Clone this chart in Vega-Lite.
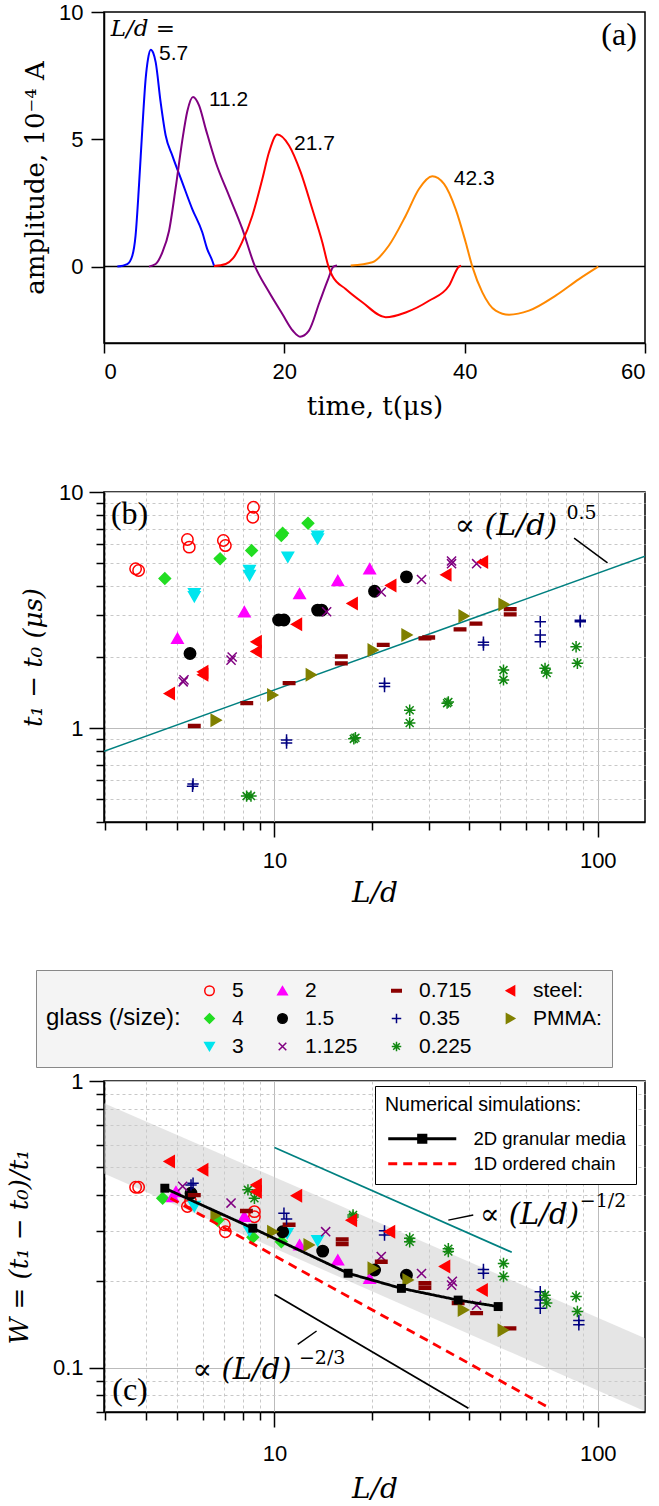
{
  "$schema": "https://vega.github.io/schema/vega-lite/v6.json",
  "background": "white",
  "padding": {"left": 5, "top": 0, "right": 0, "bottom": 0},
  "spacing": 60,
  "resolve": {"scale": {"color": "independent", "fill": "independent", "stroke": "independent", "shape": "independent", "strokeDash": "independent"}},
  "config": {
    "view": {"stroke": "black", "strokeWidth": 1.5},
    "axis": {"domainColor": "black", "domainWidth": 1.5, "tickColor": "black", "tickWidth": 1.5, "labelFont": "Liberation Sans", "labelFontSize": 22, "labelColor": "black", "titleFont": "DejaVu Serif", "titleFontSize": 26, "titleFontWeight": "normal", "titleColor": "black", "grid": false, "labelPadding": 6, "titlePadding": 10}
  },
  "vconcat": [
    {
      "width": 541, "height": 331,
      "encoding": {
        "x": {"field": "t", "type": "quantitative", "scale": {"domain": [0, 60], "nice": false, "zero": false}, "axis": {"values": [0, 20, 40, 60], "title": "time, t(μs)", "tickSize": 10, "labelPadding": 8, "titlePadding": 11}},
        "y": {"field": "amp", "type": "quantitative", "scale": {"domain": [-3, 10], "nice": false, "zero": false}, "axis": {"values": [0, 5, 10], "title": "amplitude, 10⁻⁴ A", "tickSize": 13, "labelPadding": 8, "titlePadding": 10}}
      },
      "layer": [
        {
          "data": {"values": [{"t": 0, "t2": 60, "amp": 0}]},
          "mark": {"type": "rule", "color": "black", "strokeWidth": 1.5},
          "encoding": {"x2": {"field": "t2"}}
        },
        {
          "data": {"values": [
            {"t": 1.48, "amp": 0, "Ld": "5.7"}, {"t": 2.58, "amp": 0.1, "Ld": "5.7"}, {"t": 3.14, "amp": 0.43, "Ld": "5.7"}, {"t": 3.5, "amp": 1.22, "Ld": "5.7"}, {"t": 3.88, "amp": 3.18, "Ld": "5.7"}, {"t": 4.25, "amp": 5.41, "Ld": "5.7"}, {"t": 4.62, "amp": 7.38, "Ld": "5.7"}, {"t": 4.88, "amp": 8.15, "Ld": "5.7"}, {"t": 5.18, "amp": 8.52, "Ld": "5.7"}, {"t": 5.45, "amp": 8.4, "Ld": "5.7"}, {"t": 5.73, "amp": 8.03, "Ld": "5.7"}, {"t": 6.28, "amp": 6.46, "Ld": "5.7"}, {"t": 6.84, "amp": 5.15, "Ld": "5.7"}, {"t": 7.58, "amp": 4.36, "Ld": "5.7"}, {"t": 8.68, "amp": 3.31, "Ld": "5.7"}, {"t": 9.79, "amp": 2.26, "Ld": "5.7"}, {"t": 10.9, "amp": 1.35, "Ld": "5.7"}, {"t": 11.45, "amp": 0.69, "Ld": "5.7"}, {"t": 12.0, "amp": 0.24, "Ld": "5.7"}, {"t": 12.2, "amp": 0.04, "Ld": "5.7"},
            {"t": 4.99, "amp": 0, "Ld": "11.2"}, {"t": 5.73, "amp": 0.1, "Ld": "11.2"}, {"t": 6.47, "amp": 0.56, "Ld": "11.2"}, {"t": 7.21, "amp": 1.4, "Ld": "11.2"}, {"t": 7.95, "amp": 3.1, "Ld": "11.2"}, {"t": 8.68, "amp": 4.95, "Ld": "11.2"}, {"t": 9.24, "amp": 6.1, "Ld": "11.2"}, {"t": 9.87, "amp": 6.66, "Ld": "11.2"}, {"t": 10.54, "amp": 6.33, "Ld": "11.2"}, {"t": 11.28, "amp": 5.41, "Ld": "11.2"}, {"t": 12.39, "amp": 4.1, "Ld": "11.2"}, {"t": 13.86, "amp": 2.79, "Ld": "11.2"}, {"t": 15.34, "amp": 1.48, "Ld": "11.2"}, {"t": 16.7, "amp": 0.05, "Ld": "11.2"}, {"t": 18.22, "amp": -0.95, "Ld": "11.2"}, {"t": 19.78, "amp": -1.86, "Ld": "11.2"}, {"t": 20.95, "amp": -2.52, "Ld": "11.2"}, {"t": 21.74, "amp": -2.75, "Ld": "11.2"}, {"t": 22.71, "amp": -2.52, "Ld": "11.2"}, {"t": 23.9, "amp": -1.4, "Ld": "11.2"}, {"t": 24.86, "amp": -0.49, "Ld": "11.2"}, {"t": 25.45, "amp": 0, "Ld": "11.2"}, {"t": 25.84, "amp": 0.04, "Ld": "11.2"},
            {"t": 12.2, "amp": 0.02, "Ld": "21.7"}, {"t": 13.5, "amp": 0.1, "Ld": "21.7"}, {"t": 14.3, "amp": 0.32, "Ld": "21.7"}, {"t": 15.3, "amp": 0.95, "Ld": "21.7"}, {"t": 16.45, "amp": 2.0, "Ld": "21.7"}, {"t": 17.56, "amp": 3.44, "Ld": "21.7"}, {"t": 18.3, "amp": 4.49, "Ld": "21.7"}, {"t": 19.22, "amp": 5.19, "Ld": "21.7"}, {"t": 20.52, "amp": 4.76, "Ld": "21.7"}, {"t": 21.81, "amp": 3.71, "Ld": "21.7"}, {"t": 23.1, "amp": 2.26, "Ld": "21.7"}, {"t": 24.21, "amp": 0.96, "Ld": "21.7"}, {"t": 24.9, "amp": 0, "Ld": "21.7"}, {"t": 25.3, "amp": -0.35, "Ld": "21.7"}, {"t": 26.8, "amp": -0.88, "Ld": "21.7"}, {"t": 28.65, "amp": -1.4, "Ld": "21.7"}, {"t": 31.24, "amp": -1.99, "Ld": "21.7"}, {"t": 33.46, "amp": -1.8, "Ld": "21.7"}, {"t": 36.04, "amp": -1.34, "Ld": "21.7"}, {"t": 38.26, "amp": -0.75, "Ld": "21.7"}, {"t": 39.37, "amp": 0, "Ld": "21.7"}, {"t": 39.6, "amp": 0.04, "Ld": "21.7"},
            {"t": 27.36, "amp": 0.04, "Ld": "42.3"}, {"t": 29.76, "amp": 0.17, "Ld": "42.3"}, {"t": 31.6, "amp": 0.83, "Ld": "42.3"}, {"t": 33.46, "amp": 2.0, "Ld": "42.3"}, {"t": 34.93, "amp": 3.05, "Ld": "42.3"}, {"t": 36.41, "amp": 3.55, "Ld": "42.3"}, {"t": 37.71, "amp": 3.25, "Ld": "42.3"}, {"t": 39.0, "amp": 2.26, "Ld": "42.3"}, {"t": 40.11, "amp": 0.96, "Ld": "42.3"}, {"t": 40.85, "amp": 0, "Ld": "42.3"}, {"t": 41.96, "amp": -1.01, "Ld": "42.3"}, {"t": 43.44, "amp": -1.73, "Ld": "42.3"}, {"t": 44.92, "amp": -1.89, "Ld": "42.3"}, {"t": 47.13, "amp": -1.73, "Ld": "42.3"}, {"t": 50.09, "amp": -1.14, "Ld": "42.3"}, {"t": 52.68, "amp": -0.49, "Ld": "42.3"}, {"t": 54.82, "amp": 0, "Ld": "42.3"}
          ]},
          "mark": {"type": "line", "interpolate": "monotone", "strokeWidth": 2},
          "encoding": {"color": {"field": "Ld", "type": "nominal", "scale": {"domain": ["5.7", "11.2", "21.7", "42.3"], "range": ["#0000ff", "#800080", "#ff0000", "#ff8800"]}, "legend": null}}
        },
        {
          "data": {"values": [{"t": 6.1, "amp": 8.36, "label": "5.7"}, {"t": 11.64, "amp": 6.53, "label": "11.2"}, {"t": 21.07, "amp": 4.82, "label": "21.7"}, {"t": 38.8, "amp": 3.44, "label": "42.3"}]},
          "mark": {"type": "text", "align": "left", "baseline": "middle", "font": "Liberation Sans", "fontSize": 21, "color": "black"},
          "encoding": {"text": {"field": "label"}}
        },
        {
          "data": {"values": [{"t": 0.74, "amp": 9.34, "label": "L/d ="}]},
          "mark": {"type": "text", "align": "left", "baseline": "middle", "font": "DejaVu Serif", "fontStyle": "italic", "fontSize": 23, "color": "black"},
          "encoding": {"text": {"field": "label"}}
        },
        {
          "data": {"values": [{"t": 59.1, "amp": 9.1, "label": "(a)"}]},
          "mark": {"type": "text", "align": "right", "baseline": "middle", "font": "Liberation Serif", "fontSize": 32, "color": "black"},
          "encoding": {"text": {"field": "label"}}
        }
      ]
    },
    {
      "width": 541, "height": 330,
      "encoding": {
        "x": {"field": "Ld", "type": "quantitative", "scale": {"type": "log", "domain": [2.97, 140], "nice": false}, "axis": {"title": "L/d", "titleFontStyle": "italic", "titleFontSize": 28, "values": [3, 4, 5, 6, 7, 8, 9, 10, 20, 30, 40, 50, 60, 70, 80, 90, 100], "labelExpr": "datum.value == 10 ? '10' : datum.value == 100 ? '100' : ''", "grid": true, "gridColor": {"condition": {"test": "datum.value == 10 || datum.value == 100", "value": "#bbbbbb"}, "value": "#c8c8c8"}, "gridDash": {"condition": {"test": "datum.value == 10 || datum.value == 100", "value": []}, "value": [3, 3]}, "tickSize": {"condition": {"test": "datum.value == 10 || datum.value == 100", "value": 15}, "value": 8}, "labelPadding": 13, "labelOverlap": false, "titlePadding": 8}},
        "y": {"field": "dt", "type": "quantitative", "scale": {"type": "log", "domain": [0.4, 10], "nice": false}, "axis": {"title": "t₁ − t₀ (μs)", "titleFontStyle": "italic", "values": [0.4, 0.5, 0.6, 0.7, 0.8, 0.9, 1, 2, 3, 4, 5, 6, 7, 8, 9, 10], "labelExpr": "datum.value == 1 ? '1' : datum.value == 10 ? '10' : ''", "grid": true, "gridColor": {"condition": {"test": "datum.value == 1 || datum.value == 10", "value": "#bbbbbb"}, "value": "#c8c8c8"}, "gridDash": {"condition": {"test": "datum.value == 1 || datum.value == 10", "value": []}, "value": [3, 3]}, "tickSize": {"condition": {"test": "datum.value == 1 || datum.value == 10", "value": 15}, "value": 8}, "labelPadding": 6, "labelOverlap": false, "titlePadding": 12}}
      },
      "layer": [
        {
          "data": {"values": [{"Ld": 2.97, "dt": 0.797}, {"Ld": 140, "dt": 5.35}]},
          "mark": {"type": "line", "color": "#008080", "strokeWidth": 1.5, "clip": true}
        },
        {
          "data": {"values": [{"Ld": 84.5, "dt": 6.38, "Ld2": 107.2, "dt2": 5.01}]},
          "mark": {"type": "rule", "color": "black", "strokeWidth": 1.5},
          "encoding": {"x2": {"field": "Ld2"}, "y2": {"field": "dt2"}}
        },
        {
          "data": {"values": [
            {"Ld": 3.72, "dt": 4.73, "mat": "5"}, {"Ld": 3.8, "dt": 4.65, "mat": "5"}, {"Ld": 5.38, "dt": 6.29, "mat": "5"}, {"Ld": 5.45, "dt": 5.84, "mat": "5"}, {"Ld": 6.95, "dt": 6.23, "mat": "5"}, {"Ld": 7.05, "dt": 5.93, "mat": "5"}, {"Ld": 8.61, "dt": 8.62, "mat": "5"}, {"Ld": 8.57, "dt": 7.82, "mat": "5"},
            {"Ld": 4.58, "dt": 4.3, "mat": "4"}, {"Ld": 6.79, "dt": 5.22, "mat": "4"}, {"Ld": 8.5, "dt": 5.65, "mat": "4"}, {"Ld": 10.6, "dt": 6.69, "mat": "4"}, {"Ld": 10.5, "dt": 6.54, "mat": "4"}, {"Ld": 12.7, "dt": 7.38, "mat": "4"},
            {"Ld": 5.65, "dt": 3.71, "mat": "3"}, {"Ld": 5.65, "dt": 3.6, "mat": "3"}, {"Ld": 8.37, "dt": 4.65, "mat": "3"}, {"Ld": 8.37, "dt": 4.43, "mat": "3"}, {"Ld": 11.0, "dt": 5.3, "mat": "3"}, {"Ld": 13.6, "dt": 6.5, "mat": "3"}, {"Ld": 13.6, "dt": 6.33, "mat": "3"},
            {"Ld": 5.01, "dt": 2.4, "mat": "2"}, {"Ld": 8.07, "dt": 3.11, "mat": "2"}, {"Ld": 11.96, "dt": 3.71, "mat": "2"}, {"Ld": 15.7, "dt": 4.22, "mat": "2"}, {"Ld": 19.7, "dt": 4.73, "mat": "2"},
            {"Ld": 5.48, "dt": 2.07, "mat": "1.5"}, {"Ld": 10.3, "dt": 2.87, "mat": "1.5"}, {"Ld": 10.7, "dt": 2.87, "mat": "1.5"}, {"Ld": 13.6, "dt": 3.16, "mat": "1.5"}, {"Ld": 14.0, "dt": 3.16, "mat": "1.5"}, {"Ld": 20.4, "dt": 3.8, "mat": "1.5"}, {"Ld": 25.6, "dt": 4.37, "mat": "1.5"},
            {"Ld": 5.22, "dt": 1.57, "mat": "1.125"}, {"Ld": 5.25, "dt": 1.6, "mat": "1.125"}, {"Ld": 7.34, "dt": 1.94, "mat": "1.125"}, {"Ld": 7.4, "dt": 2.0, "mat": "1.125"}, {"Ld": 14.5, "dt": 3.11, "mat": "1.125"}, {"Ld": 21.4, "dt": 3.77, "mat": "1.125"}, {"Ld": 28.5, "dt": 4.26, "mat": "1.125"}, {"Ld": 35.3, "dt": 4.97, "mat": "1.125"}, {"Ld": 35.3, "dt": 5.1, "mat": "1.125"}, {"Ld": 42.2, "dt": 4.97, "mat": "1.125"},
            {"Ld": 5.65, "dt": 1.02, "mat": "0.715"}, {"Ld": 8.21, "dt": 1.275, "mat": "0.715"}, {"Ld": 11.1, "dt": 1.55, "mat": "0.715"}, {"Ld": 16.1, "dt": 2.01, "mat": "0.715"}, {"Ld": 16.1, "dt": 1.88, "mat": "0.715"}, {"Ld": 21.7, "dt": 2.25, "mat": "0.715"}, {"Ld": 29.2, "dt": 2.4, "mat": "0.715"}, {"Ld": 30, "dt": 2.42, "mat": "0.715"}, {"Ld": 37.5, "dt": 2.62, "mat": "0.715"}, {"Ld": 42, "dt": 2.77, "mat": "0.715"}, {"Ld": 53.6, "dt": 3.19, "mat": "0.715"}, {"Ld": 53.6, "dt": 3.03, "mat": "0.715"},
            {"Ld": 5.58, "dt": 0.567, "mat": "0.35"}, {"Ld": 5.6, "dt": 0.58, "mat": "0.35"}, {"Ld": 10.9, "dt": 0.865, "mat": "0.35"}, {"Ld": 10.9, "dt": 0.89, "mat": "0.35"}, {"Ld": 21.9, "dt": 1.5, "mat": "0.35"}, {"Ld": 21.9, "dt": 1.55, "mat": "0.35"}, {"Ld": 44.3, "dt": 2.25, "mat": "0.35"}, {"Ld": 44.3, "dt": 2.31, "mat": "0.35"}, {"Ld": 66.4, "dt": 2.82, "mat": "0.35"}, {"Ld": 66.4, "dt": 2.48, "mat": "0.35"}, {"Ld": 66.4, "dt": 2.32, "mat": "0.35"}, {"Ld": 88.3, "dt": 2.82, "mat": "0.35"}, {"Ld": 88.3, "dt": 2.86, "mat": "0.35"},
            {"Ld": 8.46, "dt": 0.515, "mat": "0.225"}, {"Ld": 8.2, "dt": 0.515, "mat": "0.225"}, {"Ld": 17.6, "dt": 0.9, "mat": "0.225"}, {"Ld": 17.8, "dt": 0.91, "mat": "0.225"}, {"Ld": 26.2, "dt": 1.19, "mat": "0.225"}, {"Ld": 26.2, "dt": 1.05, "mat": "0.225"}, {"Ld": 34.2, "dt": 1.275, "mat": "0.225"}, {"Ld": 34.5, "dt": 1.29, "mat": "0.225"}, {"Ld": 51.1, "dt": 1.76, "mat": "0.225"}, {"Ld": 51.1, "dt": 1.6, "mat": "0.225"}, {"Ld": 68.7, "dt": 1.79, "mat": "0.225"}, {"Ld": 69.5, "dt": 1.71, "mat": "0.225"}, {"Ld": 85.7, "dt": 2.21, "mat": "0.225"}, {"Ld": 86.5, "dt": 1.88, "mat": "0.225"},
            {"Ld": 4.73, "dt": 1.4, "mat": "steel"}, {"Ld": 6.0, "dt": 1.73, "mat": "steel"}, {"Ld": 6.0, "dt": 1.68, "mat": "steel"}, {"Ld": 8.78, "dt": 2.32, "mat": "steel"}, {"Ld": 8.78, "dt": 2.11, "mat": "steel"}, {"Ld": 11.7, "dt": 2.75, "mat": "steel"}, {"Ld": 17.4, "dt": 3.37, "mat": "steel"}, {"Ld": 22.9, "dt": 4.02, "mat": "steel"}, {"Ld": 33.9, "dt": 4.46, "mat": "steel"}, {"Ld": 44, "dt": 5.05, "mat": "steel"},
            {"Ld": 6.6, "dt": 1.08, "mat": "PMMA"}, {"Ld": 9.88, "dt": 1.38, "mat": "PMMA"}, {"Ld": 13.0, "dt": 1.68, "mat": "PMMA"}, {"Ld": 20.2, "dt": 2.14, "mat": "PMMA"}, {"Ld": 25.7, "dt": 2.48, "mat": "PMMA"}, {"Ld": 38.6, "dt": 2.98, "mat": "PMMA"}, {"Ld": 51.3, "dt": 3.34, "mat": "PMMA"}
          ]},
          "mark": {"type": "point", "filled": true, "size": 130, "strokeWidth": 1.5, "opacity": 1},
          "encoding": {
            "fill": {"field": "mat", "type": "nominal", "scale": {"domain": ["5", "4", "3", "2", "1.5", "1.125", "0.715", "0.35", "0.225", "steel", "PMMA"], "range": ["transparent", "#22dd22", "#00e5ee", "#ff00ff", "#000000", "#800080", "#8b0000", "#000080", "#118811", "#ff0000", "#808000"]}, "legend": null},
            "stroke": {"field": "mat", "type": "nominal", "scale": {"domain": ["5", "4", "3", "2", "1.5", "1.125", "0.715", "0.35", "0.225", "steel", "PMMA"], "range": ["#ff0000", "#22dd22", "#00e5ee", "#ff00ff", "#000000", "#800080", "#8b0000", "#000080", "#118811", "#ff0000", "#808000"]}, "legend": null},
            "shape": {"field": "mat", "type": "nominal", "scale": {"domain": ["5", "4", "3", "2", "1.5", "1.125", "0.715", "0.35", "0.225", "steel", "PMMA"], "range": ["circle", "diamond", "triangle-down", "triangle-up", "circle", "M-0.8,-0.8L0.8,0.8M-0.8,0.8L0.8,-0.8", "M-1,-0.25L1,-0.25L1,0.25L-1,0.25Z", "M-1,0L1,0M0,-1L0,1", "M-1,0L1,0M0,-1L0,1M-0.7,-0.7L0.7,0.7M-0.7,0.7L0.7,-0.7", "triangle-left", "triangle-right"]}, "legend": null}
          }
        },
        {
          "data": {"values": [{"Ld": 3.12, "dt": 8.08, "label": "(b)"}]},
          "mark": {"type": "text", "align": "left", "baseline": "middle", "font": "Liberation Serif", "fontSize": 32, "color": "black"},
          "encoding": {"text": {"field": "label"}}
        },
        {
          "data": {"values": [{"Ld": 36.1, "dt": 7.21, "label": "∝ (L/d)"}]},
          "mark": {"type": "text", "align": "left", "baseline": "middle", "font": "DejaVu Serif", "fontStyle": "italic", "fontSize": 30, "color": "black"},
          "encoding": {"text": {"field": "label"}}
        },
        {
          "data": {"values": [{"Ld": 80, "dt": 8.15, "label": "0.5"}]},
          "mark": {"type": "text", "align": "left", "baseline": "middle", "font": "DejaVu Serif", "fontSize": 19, "color": "black"},
          "encoding": {"text": {"field": "label"}}
        }
      ]
    },
    {
      "width": 541, "height": 331,
      "encoding": {
        "x": {"field": "Ld", "type": "quantitative", "scale": {"type": "log", "domain": [2.97, 140], "nice": false}, "axis": {"title": "L/d", "titleFontStyle": "italic", "titleFontSize": 28, "values": [3, 4, 5, 6, 7, 8, 9, 10, 20, 30, 40, 50, 60, 70, 80, 90, 100], "labelExpr": "datum.value == 10 ? '10' : datum.value == 100 ? '100' : ''", "grid": true, "gridColor": {"condition": {"test": "datum.value == 10 || datum.value == 100", "value": "#bbbbbb"}, "value": "#c8c8c8"}, "gridDash": {"condition": {"test": "datum.value == 10 || datum.value == 100", "value": []}, "value": [3, 3]}, "tickSize": {"condition": {"test": "datum.value == 10 || datum.value == 100", "value": 15}, "value": 8}, "labelPadding": 16, "labelOverlap": false, "titlePadding": 11}},
        "y": {"field": "W", "type": "quantitative", "scale": {"type": "log", "domain": [0.07, 1], "nice": false}, "axis": {"title": "W = (t₁ − t₀)/t₁", "titleFontStyle": "italic", "values": [0.07, 0.08, 0.09, 0.1, 0.2, 0.3, 0.4, 0.5, 0.6, 0.7, 0.8, 0.9, 1], "labelExpr": "datum.value == 0.1 ? '0.1' : datum.value == 1 ? '1' : ''", "grid": true, "gridColor": {"condition": {"test": "datum.value == 0.1 || datum.value == 1", "value": "#bbbbbb"}, "value": "#c8c8c8"}, "gridDash": {"condition": {"test": "datum.value == 0.1 || datum.value == 1", "value": []}, "value": [3, 3]}, "tickSize": {"condition": {"test": "datum.value == 0.1 || datum.value == 1", "value": 15}, "value": 8}, "labelPadding": 6, "labelOverlap": false, "titlePadding": 20}}
      },
      "layer": [
        {
          "data": {"values": [{"Ld": 2.97, "W": 0.837, "W2": 0.476}, {"Ld": 140, "W": 0.1266, "W2": 0.0704}]},
          "mark": {"type": "area", "color": "#cccccc", "opacity": 0.5, "clip": true},
          "encoding": {"y2": {"field": "W2"}}
        },
        {
          "data": {"values": [{"Ld": 10, "W": 0.586}, {"Ld": 54.2, "W": 0.2526}]},
          "mark": {"type": "line", "color": "#008080", "strokeWidth": 1.8}
        },
        {
          "data": {"values": [{"Ld": 10, "W": 0.18}, {"Ld": 39.8, "W": 0.0721}]},
          "mark": {"type": "line", "color": "black", "strokeWidth": 1.8}
        },
        {
          "data": {"values": [{"Ld": 11.8, "W": 0.1206, "Ld2": 13.5, "W2": 0.1342}, {"Ld": 34.5, "W": 0.327, "Ld2": 41.2, "W2": 0.341}]},
          "mark": {"type": "rule", "color": "black", "strokeWidth": 1.5},
          "encoding": {"x2": {"field": "Ld2"}, "y2": {"field": "W2"}}
        },
        {
          "data": {"values": [
            {"Ld": 3.72, "W": 0.426, "mat": "5"}, {"Ld": 3.8, "W": 0.426, "mat": "5"}, {"Ld": 5.38, "W": 0.365, "mat": "5"}, {"Ld": 5.5, "W": 0.38, "mat": "5"}, {"Ld": 7.05, "W": 0.298, "mat": "5"}, {"Ld": 7.0, "W": 0.315, "mat": "5"}, {"Ld": 8.67, "W": 0.35, "mat": "5"}, {"Ld": 8.67, "W": 0.336, "mat": "5"},
            {"Ld": 4.51, "W": 0.39, "mat": "4"}, {"Ld": 6.67, "W": 0.327, "mat": "4"}, {"Ld": 8.57, "W": 0.285, "mat": "4"}, {"Ld": 10.5, "W": 0.275, "mat": "4"},
            {"Ld": 5.65, "W": 0.365, "mat": "3"}, {"Ld": 8.37, "W": 0.3, "mat": "3"}, {"Ld": 10.95, "W": 0.294, "mat": "3"}, {"Ld": 13.6, "W": 0.277, "mat": "3"},
            {"Ld": 4.96, "W": 0.411, "mat": "2"}, {"Ld": 4.84, "W": 0.395, "mat": "2"}, {"Ld": 8.07, "W": 0.337, "mat": "2"}, {"Ld": 11.96, "W": 0.268, "mat": "2"}, {"Ld": 15.7, "W": 0.2375, "mat": "2"}, {"Ld": 19.7, "W": 0.205, "mat": "2"},
            {"Ld": 5.52, "W": 0.406, "mat": "1.5"}, {"Ld": 10.6, "W": 0.298, "mat": "1.5"}, {"Ld": 14.1, "W": 0.255, "mat": "1.5"}, {"Ld": 20.4, "W": 0.219, "mat": "1.5"}, {"Ld": 25.6, "W": 0.21, "mat": "1.5"},
            {"Ld": 5.2, "W": 0.429, "mat": "1.125"}, {"Ld": 7.34, "W": 0.375, "mat": "1.125"}, {"Ld": 14.4, "W": 0.298, "mat": "1.125"}, {"Ld": 21.4, "W": 0.244, "mat": "1.125"}, {"Ld": 28.5, "W": 0.213, "mat": "1.125"}, {"Ld": 35.3, "W": 0.194, "mat": "1.125"}, {"Ld": 35.5, "W": 0.2, "mat": "1.125"}, {"Ld": 42.2, "W": 0.165, "mat": "1.125"},
            {"Ld": 5.65, "W": 0.4, "mat": "0.715"}, {"Ld": 8.19, "W": 0.352, "mat": "0.715"}, {"Ld": 11.1, "W": 0.315, "mat": "0.715"}, {"Ld": 16.2, "W": 0.28, "mat": "0.715"}, {"Ld": 16.2, "W": 0.27, "mat": "0.715"}, {"Ld": 21.4, "W": 0.234, "mat": "0.715"}, {"Ld": 29.2, "W": 0.197, "mat": "0.715"}, {"Ld": 29.2, "W": 0.19, "mat": "0.715"}, {"Ld": 37, "W": 0.168, "mat": "0.715"}, {"Ld": 42.2, "W": 0.155, "mat": "0.715"}, {"Ld": 53.5, "W": 0.137, "mat": "0.715"},
            {"Ld": 5.52, "W": 0.434, "mat": "0.35"}, {"Ld": 5.6, "W": 0.44, "mat": "0.35"}, {"Ld": 10.7, "W": 0.3456, "mat": "0.35"}, {"Ld": 10.9, "W": 0.33, "mat": "0.35"}, {"Ld": 21.9, "W": 0.29, "mat": "0.35"}, {"Ld": 21.9, "W": 0.3, "mat": "0.35"}, {"Ld": 44.3, "W": 0.2134, "mat": "0.35"}, {"Ld": 44.3, "W": 0.22, "mat": "0.35"}, {"Ld": 66.4, "W": 0.184, "mat": "0.35"}, {"Ld": 66.4, "W": 0.172, "mat": "0.35"}, {"Ld": 66.4, "W": 0.161, "mat": "0.35"}, {"Ld": 87.4, "W": 0.141, "mat": "0.35"}, {"Ld": 87.4, "W": 0.146, "mat": "0.35"},
            {"Ld": 8.28, "W": 0.417, "mat": "0.225"}, {"Ld": 8.67, "W": 0.39, "mat": "0.225"}, {"Ld": 17.5, "W": 0.341, "mat": "0.225"}, {"Ld": 17.5, "W": 0.335, "mat": "0.225"}, {"Ld": 26.2, "W": 0.2827, "mat": "0.225"}, {"Ld": 26.2, "W": 0.275, "mat": "0.225"}, {"Ld": 34.5, "W": 0.254, "mat": "0.225"}, {"Ld": 34.5, "W": 0.26, "mat": "0.225"}, {"Ld": 51.1, "W": 0.231, "mat": "0.225"}, {"Ld": 51.1, "W": 0.208, "mat": "0.225"}, {"Ld": 68.7, "W": 0.179, "mat": "0.225"}, {"Ld": 69.5, "W": 0.168, "mat": "0.225"}, {"Ld": 85.7, "W": 0.177, "mat": "0.225"}, {"Ld": 86.5, "W": 0.157, "mat": "0.225"},
            {"Ld": 4.73, "W": 0.524, "mat": "steel"}, {"Ld": 6.0, "W": 0.49, "mat": "steel"}, {"Ld": 8.78, "W": 0.434, "mat": "steel"}, {"Ld": 8.78, "W": 0.411, "mat": "steel"}, {"Ld": 11.7, "W": 0.398, "mat": "steel"}, {"Ld": 17.3, "W": 0.327, "mat": "steel"}, {"Ld": 22.7, "W": 0.298, "mat": "steel"}, {"Ld": 33.6, "W": 0.2253, "mat": "steel"}, {"Ld": 43.9, "W": 0.1866, "mat": "steel"},
            {"Ld": 6.6, "W": 0.341, "mat": "PMMA"}, {"Ld": 9.88, "W": 0.298, "mat": "PMMA"}, {"Ld": 12.8, "W": 0.268, "mat": "PMMA"}, {"Ld": 20.2, "W": 0.222, "mat": "PMMA"}, {"Ld": 25.9, "W": 0.2023, "mat": "PMMA"}, {"Ld": 38.4, "W": 0.159, "mat": "PMMA"}, {"Ld": 51.0, "W": 0.135, "mat": "PMMA"}
          ]},
          "mark": {"type": "point", "filled": true, "size": 130, "strokeWidth": 1.5, "opacity": 1},
          "encoding": {
            "fill": {"field": "mat", "type": "nominal", "scale": {"domain": ["5", "4", "3", "2", "1.5", "1.125", "0.715", "0.35", "0.225", "steel", "PMMA"], "range": ["transparent", "#22dd22", "#00e5ee", "#ff00ff", "#000000", "#800080", "#8b0000", "#000080", "#118811", "#ff0000", "#808000"]},
              "legend": {"orient": "none", "legendX": -68, "legendY": -111, "title": "glass (/size):", "titleOrient": "left", "titleAnchor": "middle", "titleBaseline": "middle", "titleFont": "Liberation Sans", "titleFontSize": 24, "titleFontWeight": "normal", "titleColor": "black", "titlePadding": 18, "titleLimit": 400, "columns": 4, "columnPadding": 28, "rowPadding": 6, "labelFont": "Liberation Sans", "labelFontSize": 21, "labelColor": "black", "labelOffset": 12, "labelLimit": 300, "symbolSize": 90, "symbolStrokeWidth": 1.5, "symbolOpacity": 1, "fillColor": "#f4f4f4", "strokeColor": "#888888", "padding": 10, "cornerRadius": 0, "labelExpr": "datum.label == 'steel' ? 'steel:' : datum.label == 'PMMA' ? 'PMMA:' : datum.label"}},
            "stroke": {"field": "mat", "type": "nominal", "scale": {"domain": ["5", "4", "3", "2", "1.5", "1.125", "0.715", "0.35", "0.225", "steel", "PMMA"], "range": ["#ff0000", "#22dd22", "#00e5ee", "#ff00ff", "#000000", "#800080", "#8b0000", "#000080", "#118811", "#ff0000", "#808000"]}},
            "shape": {"field": "mat", "type": "nominal", "scale": {"domain": ["5", "4", "3", "2", "1.5", "1.125", "0.715", "0.35", "0.225", "steel", "PMMA"], "range": ["circle", "diamond", "triangle-down", "triangle-up", "circle", "M-0.8,-0.8L0.8,0.8M-0.8,0.8L0.8,-0.8", "M-1,-0.25L1,-0.25L1,0.25L-1,0.25Z", "M-1,0L1,0M0,-1L0,1", "M-1,0L1,0M0,-1L0,1M-0.7,-0.7L0.7,0.7M-0.7,0.7L0.7,-0.7", "triangle-left", "triangle-right"]}}
          }
        },
        {
          "data": {"values": [
            {"Ld": 4.58, "W": 0.4226, "sim": "2D granular media"}, {"Ld": 8.57, "W": 0.3065, "sim": "2D granular media"}, {"Ld": 16.9, "W": 0.2134, "sim": "2D granular media"}, {"Ld": 24.7, "W": 0.189, "sim": "2D granular media"}, {"Ld": 37, "W": 0.172, "sim": "2D granular media"}, {"Ld": 49.2, "W": 0.1633, "sim": "2D granular media"},
            {"Ld": 4.77, "W": 0.39, "sim": "1D ordered chain"}, {"Ld": 71.2, "W": 0.0721, "sim": "1D ordered chain"}
          ]},
          "layer": [
            {
              "mark": {"type": "line", "strokeWidth": 2.8},
              "encoding": {
                "color": {"field": "sim", "type": "nominal", "scale": {"domain": ["2D granular media", "1D ordered chain"], "range": ["#000000", "#ff0000"]},
                  "legend": {"orient": "none", "legendX": 271, "legendY": 5, "title": "Numerical simulations:", "titleFont": "Liberation Sans", "titleFontSize": 19.5, "titleFontWeight": "normal", "titleColor": "black", "titlePadding": 14, "titleLimit": 400, "labelFont": "Liberation Sans", "labelFontSize": 18.5, "labelColor": "black", "labelLimit": 400, "symbolType": "M-5.67,0H5.67", "symbolSize": 144, "symbolStrokeWidth": 3, "symbolOffset": 28, "labelOffset": 42, "rowPadding": 6, "fillColor": "white", "strokeColor": "black", "padding": 10, "cornerRadius": 0,
                    "encode": {"symbols": {"update": {"shape": {"signal": "datum.value === '2D granular media' ? 'M-5.67,0H5.67M-0.6,-0.6H0.6V0.6H-0.6Z' : 'M-5.67,0H5.67'"}, "fill": {"signal": "datum.value === '2D granular media' ? 'black' : 'transparent'"}}}}}},
                "strokeDash": {"field": "sim", "type": "nominal", "scale": {"domain": ["2D granular media", "1D ordered chain"], "range": [[1, 0], [9, 6]]}}
              }
            },
            {
              "transform": [{"filter": "datum.sim === '2D granular media'"}],
              "mark": {"type": "point", "shape": "square", "filled": true, "size": 80, "color": "black", "opacity": 1}
            }
          ]
        },
        {
          "data": {"values": [{"Ld": 3.15, "W": 0.0835, "label": "(c)"}]},
          "mark": {"type": "text", "align": "left", "baseline": "middle", "font": "Liberation Serif", "fontSize": 32, "color": "black"},
          "encoding": {"text": {"field": "label"}}
        },
        {
          "data": {"values": [{"Ld": 43.2, "W": 0.3407, "label": "∝ (L/d)"}, {"Ld": 5.58, "W": 0.098, "label": "∝ (L/d)"}]},
          "mark": {"type": "text", "align": "left", "baseline": "middle", "font": "DejaVu Serif", "fontStyle": "italic", "fontSize": 29, "color": "black"},
          "encoding": {"text": {"field": "label"}}
        },
        {
          "data": {"values": [{"Ld": 88, "W": 0.38, "label": "−1/2"}, {"Ld": 11.9, "W": 0.108, "label": "−2/3"}]},
          "mark": {"type": "text", "align": "left", "baseline": "middle", "font": "DejaVu Serif", "fontSize": 19, "color": "black"},
          "encoding": {"text": {"field": "label"}}
        }
      ]
    }
  ]
}
